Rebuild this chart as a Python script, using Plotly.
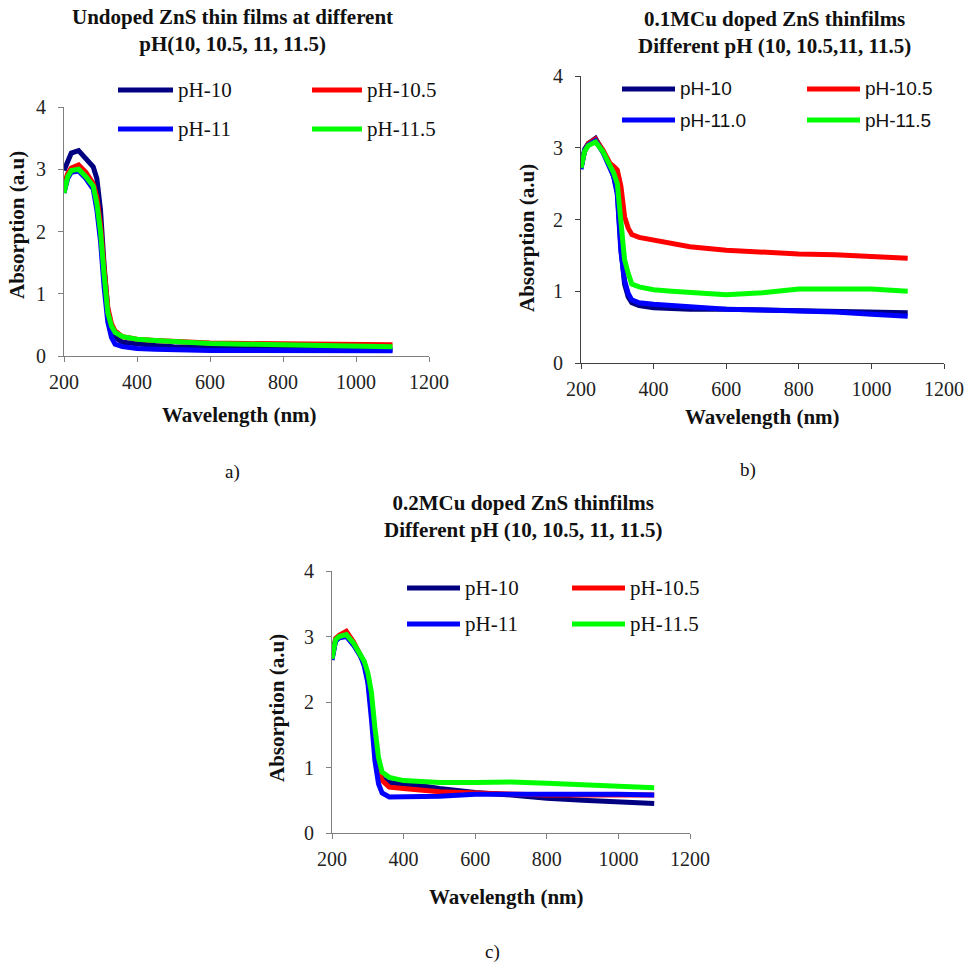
import plotly.graph_objects as go

# Wavelength grid (nm) shared by all spectra
wavelength = [200, 210, 220, 240, 260, 280, 290, 300, 310, 320, 330, 340, 360,
              400, 450, 500, 600, 700, 800, 900, 1000, 1100]

series_names_a = ["pH-10", "pH-10.5", "pH-11", "pH-11.5"]
series_names_b = ["pH-10", "pH-10.5", "pH-11.0", "pH-11.5"]
series_names_c = ["pH-10", "pH-10.5", "pH-11", "pH-11.5"]
series_colors = ["#000080", "#FF0000", "#0000FF", "#00FF00"]

# a) undoped ZnS
undoped_ph10 = [2.98, 3.15, 3.26, 3.30, 3.17, 3.04, 2.85, 2.35, 1.45, 0.75, 0.45, 0.30,
                0.22, 0.19, 0.17, 0.15, 0.13, 0.12, 0.12, 0.11, 0.11, 0.10]
undoped_ph105 = [2.75, 2.93, 3.02, 3.07, 2.95, 2.77, 2.55, 2.10, 1.40, 0.78, 0.52, 0.40,
                 0.31, 0.27, 0.25, 0.23, 0.21, 0.20, 0.19, 0.19, 0.18, 0.18]
undoped_ph11 = [2.62, 2.85, 2.95, 2.97, 2.85, 2.68, 2.35, 1.85, 1.10, 0.55, 0.30, 0.19,
                0.15, 0.12, 0.11, 0.10, 0.09, 0.09, 0.09, 0.09, 0.085, 0.085]
undoped_ph115 = [2.62, 2.88, 2.98, 3.00, 2.88, 2.73, 2.45, 2.00, 1.30, 0.70, 0.48, 0.38,
                 0.31, 0.27, 0.25, 0.23, 0.20, 0.19, 0.18, 0.17, 0.16, 0.15]

# b) 0.1 M Cu doped ZnS
cu01_ph10 = [2.72, 2.98, 3.06, 3.13, 2.95, 2.75, 2.60, 2.40, 1.60, 1.10, 0.92, 0.84,
             0.80, 0.77, 0.76, 0.75, 0.75, 0.74, 0.74, 0.73, 0.72, 0.70]
cu01_ph105 = [2.74, 2.95, 3.06, 3.12, 2.97, 2.78, 2.74, 2.69, 2.46, 2.04, 1.88, 1.79,
              1.75, 1.71, 1.67, 1.62, 1.57, 1.54, 1.52, 1.51, 1.49, 1.46]
cu01_ph11 = [2.70, 2.96, 3.04, 3.10, 2.94, 2.73, 2.60, 2.35, 1.55, 1.15, 0.97, 0.88,
             0.84, 0.82, 0.80, 0.78, 0.75, 0.74, 0.73, 0.71, 0.68, 0.65]
cu01_ph115 = [2.72, 2.95, 3.03, 3.08, 2.95, 2.75, 2.65, 2.50, 2.00, 1.44, 1.25, 1.10,
              1.06, 1.02, 1.00, 0.98, 0.95, 0.98, 1.03, 1.03, 1.03, 1.00]

# c) 0.2 M Cu doped ZnS
cu02_ph10 = [2.66, 2.95, 3.00, 3.03, 2.89, 2.71, 2.60, 2.35, 1.90, 1.30, 0.95, 0.83,
             0.77, 0.74, 0.72, 0.68, 0.62, 0.58, 0.53, 0.50, 0.47, 0.45]
cu02_ph105 = [2.68, 2.97, 3.02, 3.08, 2.92, 2.72, 2.60, 2.38, 1.95, 1.35, 0.95, 0.80,
              0.70, 0.68, 0.66, 0.63, 0.61, 0.59, 0.58, 0.58, 0.58, 0.58]
cu02_ph11 = [2.64, 2.93, 2.98, 3.00, 2.87, 2.70, 2.55, 2.30, 1.75, 1.10, 0.75, 0.61,
             0.55, 0.55, 0.55, 0.56, 0.59, 0.59, 0.60, 0.60, 0.59, 0.58]
cu02_ph115 = [2.66, 2.95, 3.00, 3.03, 2.90, 2.73, 2.62, 2.45, 2.15, 1.60, 1.15, 0.93,
              0.85, 0.80, 0.78, 0.77, 0.77, 0.78, 0.76, 0.74, 0.72, 0.69]

x_ticks = [200, 400, 600, 800, 1000, 1200]
y_ticks = [0, 1, 2, 3, 4]

W, H = 970, 962
SERIF = "Liberation Serif"
SANS = "Liberation Sans"


def px(x):
    return x / W


def py(y):
    return 1 - y / H


panels = [
    dict(key="", data=[undoped_ph10, undoped_ph105, undoped_ph11, undoped_ph115],
         names=series_names_a, box=(64, 429, 107, 356), axis_color="#808080",
         legend_font=SERIF, legend_size=21,
         legend_rows=(90, 129), legend_cols=(118, 173, 312, 362)),
    dict(key="2", data=[cu01_ph10, cu01_ph105, cu01_ph11, cu01_ph115],
         names=series_names_b, box=(581, 944, 76, 363), axis_color="#404040",
         legend_font=SANS, legend_size=19,
         legend_rows=(89, 120), legend_cols=(622, 675, 807, 860)),
    dict(key="3", data=[cu02_ph10, cu02_ph105, cu02_ph11, cu02_ph115],
         names=series_names_c, box=(332, 690, 571, 833), axis_color="#808080",
         legend_font=SERIF, legend_size=21,
         legend_rows=(588, 624), legend_cols=(407, 460, 572, 625)),
]

fig = go.Figure()
shapes = []
annotations = []

for p in panels:
    k = p["key"]
    for name, vals, color in zip(p["names"], p["data"], series_colors):
        fig.add_trace(go.Scatter(
            x=wavelength, y=vals, mode="lines", name=name,
            line=dict(color=color, width=5),
            xaxis="x" + k, yaxis="y" + k, showlegend=False,
        ))
    x0, x1, y0, y1 = p["box"]
    axis_common = dict(
        showgrid=False, zeroline=False, showline=True, linecolor=p["axis_color"],
        linewidth=1, ticks="outside", ticklen=5, tickcolor=p["axis_color"],
        tickfont=dict(family=SERIF, size=20, color="#222"), automargin=False,
    )
    fig.update_layout(**{
        "xaxis" + k: dict(domain=[px(x0), px(x1)], range=[200, 1200],
                          tickvals=x_ticks, anchor="y" + k, ticklabelstandoff=3,
                          **axis_common),
        "yaxis" + k: dict(domain=[py(y1), py(y0)], range=[0, 4],
                          tickvals=y_ticks, anchor="x" + k, ticklabelstandoff=8,
                          **axis_common),
    })
    # two-column key: rows = (first, second), columns = (left, right)
    r0, r1 = p["legend_rows"]
    c0a, c0b, c1a, c1b = p["legend_cols"]
    slots = [(c0a, c0b, r0), (c1a, c1b, r0), (c0a, c0b, r1), (c1a, c1b, r1)]
    for (la, lb, ry), name, color in zip(slots, p["names"], series_colors):
        shapes.append(dict(type="line", xref="paper", yref="paper",
                           x0=px(la), x1=px(lb), y0=py(ry), y1=py(ry),
                           line=dict(color=color, width=5)))
        annotations.append(dict(x=px(lb + 3), y=py(ry), xref="paper", yref="paper",
                                text=name, showarrow=False, xanchor="left",
                                yanchor="middle",
                                font=dict(family=p["legend_font"],
                                          size=p["legend_size"], color="#111")))

titles = [
    ("Undoped ZnS thin films at different<br>pH(10, 10.5, 11, 11.5)", 232, 30),
    ("0.1MCu doped ZnS thinfilms<br>Different pH (10, 10.5,11, 11.5)", 774, 32),
    ("0.2MCu doped ZnS thinfilms<br>Different pH (10, 10.5, 11, 11.5)", 523, 516),
]
for text, cx, cy in titles:
    annotations.append(dict(x=px(cx), y=py(cy), xref="paper", yref="paper",
                            text="<b>" + text + "</b>", showarrow=False,
                            xanchor="center", yanchor="middle",
                            font=dict(family=SERIF, size=21, color="#111")))

for cx, cy in [(239, 415), (762, 417), (506, 897)]:
    annotations.append(dict(x=px(cx), y=py(cy), xref="paper", yref="paper",
                            text="<b>Wavelength (nm)</b>", showarrow=False,
                            xanchor="center", yanchor="middle",
                            font=dict(family=SERIF, size=21, color="#111")))

for cx, cy in [(17, 225), (527, 238), (277, 708)]:
    annotations.append(dict(x=px(cx), y=py(cy), xref="paper", yref="paper",
                            text="<b>Absorption (a.u)</b>", showarrow=False,
                            textangle=-90, xanchor="center", yanchor="middle",
                            font=dict(family=SERIF, size=21, color="#111")))

for text, cx, cy in [("a)", 232, 472), ("b)", 748, 470), ("c)", 492, 952)]:
    annotations.append(dict(x=px(cx), y=py(cy), xref="paper", yref="paper",
                            text=text, showarrow=False,
                            xanchor="center", yanchor="middle",
                            font=dict(family=SERIF, size=19, color="#111")))

fig.update_layout(
    width=W, height=H, margin=dict(l=0, r=0, t=0, b=0, autoexpand=False),
    paper_bgcolor="white", plot_bgcolor="white",
    shapes=shapes, annotations=annotations, showlegend=False,
)

fig.write_html("out.html")
